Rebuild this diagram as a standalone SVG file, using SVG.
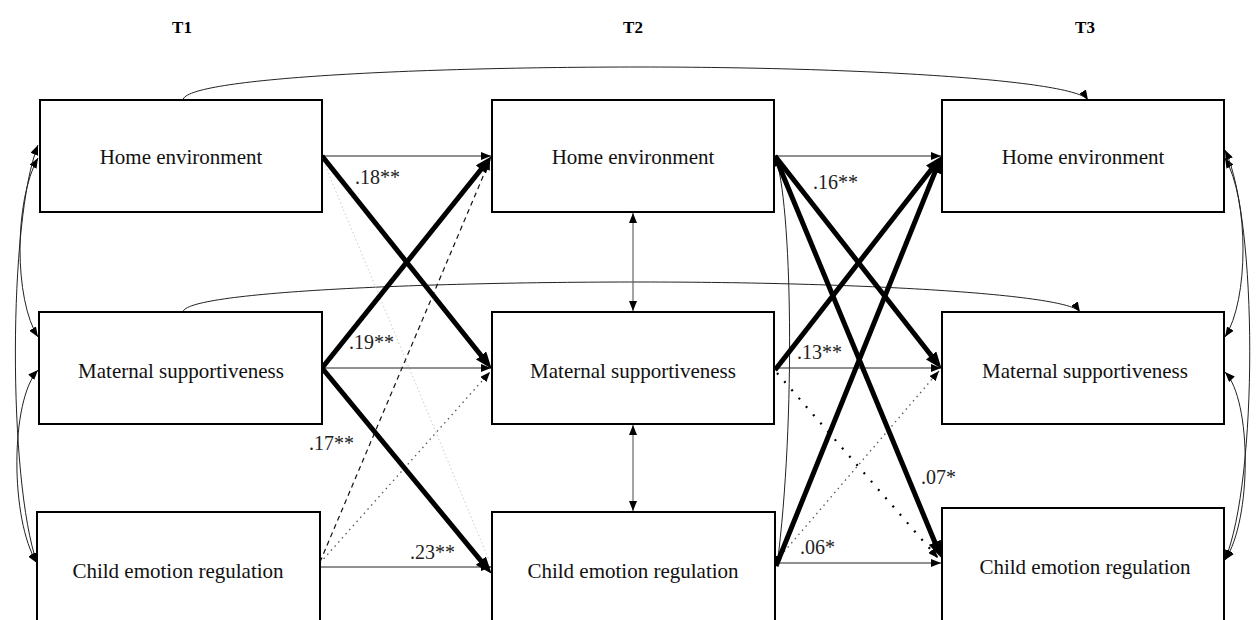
<svg xmlns="http://www.w3.org/2000/svg" width="1256" height="620" viewBox="0 0 1256 620">
<style>
.box{fill:#fff;stroke:#000;stroke-width:2}
.t{font-family:"Liberation Serif","Times New Roman",serif;font-size:21px;fill:#111;text-anchor:middle}
.h{font-family:"Liberation Serif","Times New Roman",serif;font-size:17px;font-weight:bold;fill:#000;text-anchor:middle}
.lab{font-family:"Liberation Serif","Times New Roman",serif;font-size:20px;fill:#222}
.thin{fill:none;stroke:#222;stroke-width:1}
.cov{fill:none;stroke:#222;stroke-width:1}
.thick{fill:none;stroke:#000;stroke-width:5}
.dash{fill:none;stroke:#111;stroke-width:1.2;stroke-dasharray:5 4}
.dotg{fill:none;stroke:#555;stroke-width:1.3;stroke-dasharray:1.5 4}
.faint{fill:none;stroke:#ccc;stroke-width:1;stroke-dasharray:1.5 2.5}
.dotb{fill:none;stroke:#000;stroke-width:2.2;stroke-dasharray:2 9}
.vert{fill:none;stroke:#666;stroke-width:1.2}
</style>
<defs>
<marker id="a" viewBox="0 0 10 8" refX="10" refY="4" markerWidth="10" markerHeight="8" markerUnits="userSpaceOnUse" orient="auto-start-reverse"><path d="M0,0L10,4L0,8z" fill="#000"/></marker>
<marker id="A" viewBox="0 0 17 13" refX="10" refY="6.5" markerWidth="17" markerHeight="13" markerUnits="userSpaceOnUse" orient="auto"><path d="M0,0L17,6.5L0,13z" fill="#000"/></marker>
</defs>
<g id="headers">
<text class="h" x="182" y="33">T1</text>
<text class="h" x="633" y="33">T2</text>
<text class="h" x="1085" y="33">T3</text>
</g>
<g id="connectors">
<path class="cov" d="M183,100 C185,78 420,67 640,67 C860,67 1075,80 1088,100" marker-end="url(#a)"/>
<path class="cov" d="M183,312 C185,292 420,282 640,282 C860,282 1068,294 1080,312" marker-end="url(#a)"/>
<path class="cov" d="M38,158 C14,200 14,300 38,337" marker-start="url(#a)" marker-end="url(#a)"/>
<path class="cov" d="M38,145 C8,220 8,480 37,563" marker-start="url(#a)" marker-end="url(#a)"/>
<path class="cov" d="M38,370 C10,400 10,520 37,563" marker-start="url(#a)" marker-end="url(#a)"/>
<path class="cov" d="M1225,158 C1249,200 1249,300 1225,337" marker-start="url(#a)" marker-end="url(#a)"/>
<path class="cov" d="M1225,150 C1258,220 1258,480 1225,560" marker-start="url(#a)" marker-end="url(#a)"/>
<path class="cov" d="M1225,372 C1252,400 1252,520 1225,560" marker-start="url(#a)" marker-end="url(#a)"/>
<path class="vert" d="M633,213 V311" marker-start="url(#a)" marker-end="url(#a)"/>
<path class="vert" d="M633,425 V511" marker-start="url(#a)" marker-end="url(#a)"/>
<path class="cov" d="M775,156 C792,200 796,420 777,566" marker-start="url(#a)" marker-end="url(#a)"/>
<path class="faint" d="M322,158 L489,560"/>
<path class="dash" d="M320,562 L490,160" marker-end="url(#a)"/>
<path class="dotg" d="M320,563 L490,372" marker-end="url(#a)"/>
<path class="thin" d="M322,156 H491" marker-end="url(#a)"/>
<path class="thin" d="M322,368 H491" marker-end="url(#a)"/>
<path class="thin" d="M320,567 H491" marker-end="url(#a)"/>
<path class="thick" d="M322,156 L487.3,363.3" marker-end="url(#A)"/>
<path class="thick" d="M322,368 L487.2,161.7" marker-end="url(#A)"/>
<path class="thick" d="M322,368 L487.2,568.4" marker-end="url(#A)"/>
<path class="dotb" d="M777,373 L938,558" marker-end="url(#a)"/>
<path class="dotg" d="M777,560 L939,371" marker-end="url(#a)"/>
<path class="thin" d="M775,156 H941" marker-end="url(#a)"/>
<path class="thin" d="M775,368 H941" marker-end="url(#a)"/>
<path class="thin" d="M776,563 H941" marker-end="url(#a)"/>
<path class="thick" d="M775,156 L937.3,363.3" marker-end="url(#A)"/>
<path class="thick" d="M775,156 L938.7,551.5" marker-end="url(#A)"/>
<path class="thick" d="M775,370 L937.3,161.7" marker-end="url(#A)"/>
<path class="thick" d="M776,566 L938.8,162.6" marker-end="url(#A)"/>
</g>
<g id="labels">
<text class="lab" x="355" y="184">.18**</text>
<text class="lab" x="349" y="349">.19**</text>
<text class="lab" x="309" y="450">.17**</text>
<text class="lab" x="410" y="559">.23**</text>
<text class="lab" x="813" y="189">.16**</text>
<text class="lab" x="797" y="359">.13**</text>
<text class="lab" x="800" y="554">.06*</text>
<text class="lab" x="921" y="484">.07*</text>
</g>
<g id="t1-home"><rect class="box" x="40" y="100" width="282" height="112"/><text class="t" x="181" y="164">Home environment</text></g>
<g id="t1-maternal"><rect class="box" x="39" y="312" width="283" height="112"/><text class="t" x="181" y="378">Maternal supportiveness</text></g>
<g id="t1-child"><rect class="box" x="37" y="512" width="283" height="114"/><text class="t" x="178" y="578">Child emotion regulation</text></g>
<g id="t2-home"><rect class="box" x="492" y="100" width="282" height="112"/><text class="t" x="633" y="164">Home environment</text></g>
<g id="t2-maternal"><rect class="box" x="492" y="312" width="282" height="112"/><text class="t" x="633" y="378">Maternal supportiveness</text></g>
<g id="t2-child"><rect class="box" x="492" y="512" width="283" height="114"/><text class="t" x="633" y="578">Child emotion regulation</text></g>
<g id="t3-home"><rect class="box" x="942" y="100" width="282" height="112"/><text class="t" x="1083" y="164">Home environment</text></g>
<g id="t3-maternal"><rect class="box" x="942" y="312" width="282" height="112"/><text class="t" x="1085" y="378">Maternal supportiveness</text></g>
<g id="t3-child"><rect class="box" x="942" y="508" width="282" height="118"/><text class="t" x="1085" y="574">Child emotion regulation</text></g>
</svg>
